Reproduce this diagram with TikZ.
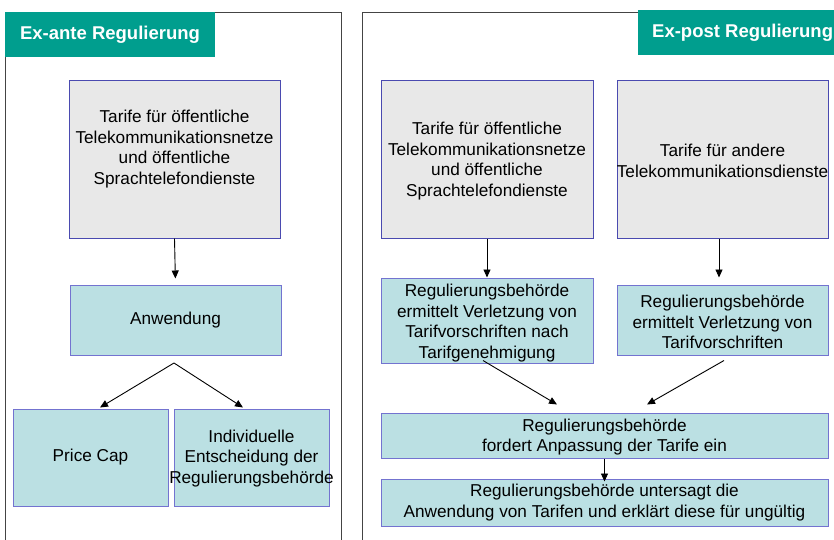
\documentclass[tikz,border=0pt]{standalone}
\usepackage{fontspec}
\setmainfont{Liberation Sans}
\usetikzlibrary{arrows.meta}
\definecolor{teal1}{HTML}{009E8E}
\definecolor{greyfill}{HTML}{E8E8E8}
\definecolor{greyline}{HTML}{4A4AB0}
\definecolor{lightteal}{HTML}{BBE0E3}
\definecolor{tealline}{HTML}{7373D0}
\definecolor{frameline}{HTML}{444444}
\tikzset{
  greybox/.style={draw=greyline, fill=greyfill, line width=1pt, inner sep=0pt},
  tealbox/.style={draw=tealline, fill=lightteal, line width=1pt, inner sep=0pt},
  txt/.style={align=center, inner sep=0pt, font=\fontsize{17.2}{20.5}\selectfont},
  titlebox/.style={fill=teal1, inner sep=0pt},
  titletxt/.style={text=white, inner sep=0pt, font=\fontsize{18.5}{22}\selectfont\bfseries},
  frame/.style={draw=frameline, line width=1pt},
  arr/.style={draw=black, line width=0.9pt, -{Triangle[length=8pt,width=7pt]}},
  conn/.style={draw=black, line width=0.9pt}
}
\begin{document}
\begin{tikzpicture}[x=1pt,y=-1pt]
\clip (0,0) rectangle (834,539);
\fill[white] (0,0) rectangle (834,539);
% panels
\draw[frame] (5,12) rectangle (341,580);
\draw[frame] (362,12) rectangle (900,580);
% titles
\node[titlebox, minimum width=210pt, minimum height=45pt] (t1) at (110,34.5) {};
\node[titletxt] (t1txt) at (t1) {Ex-ante Regulierung};
\node[titlebox, minimum width=230pt, minimum height=45pt, anchor=north west] (t2) at (638,10) {};
\node[titletxt, anchor=west] (t2txt) at (652,32.5) {Ex-post Regulierung};
% left column
\node[greybox, minimum width=211pt, minimum height=158pt] (lg) at (174.5,159) {};
\node[txt] (lgt) at (174.5,149) {Tarife für öffentliche\\Telekommunikationsnetze\\und öffentliche\\Sprachtelefondienste};
\node[tealbox, minimum width=211pt, minimum height=70pt] (aw) at (175.5,320) {};
\node[txt] (awt) at (aw) {Anwendung};
\node[tealbox, minimum width=155pt, minimum height=97pt] (pc) at (90.5,457.5) {};
\node[txt] (pct) at (pc) {Price Cap};
\node[tealbox, minimum width=155pt, minimum height=97pt] (ie) at (251.5,457.5) {};
\node[txt] (iet) at (251.5,458.5) {Individuelle\\Entscheidung der\\Regulierungsbehörde};
\coordinate (apex) at (174,363);
\draw[arr, shorten >=6pt] (lg.south) -- (aw.north);
\draw[arr] (apex) -- ([xshift=9.5pt,yshift=1pt]pc.north);
\draw[arr] (apex) -- ([xshift=-8.5pt,yshift=1pt]ie.north);
% right column
\node[greybox, minimum width=212pt, minimum height=158pt] (rg1) at (487,159) {};
\node[txt] (rg1t) at (487,161) {Tarife für öffentliche\\Telekommunikationsnetze\\und öffentliche\\Sprachtelefondienste};
\node[greybox, minimum width=211pt, minimum height=158pt] (rg2) at (722.5,159) {};
\node[txt] (rg2t) at (722.5,161) {Tarife für andere\\Telekommunikationsdienste};
\node[tealbox, minimum width=212pt, minimum height=85pt] (r1) at (487,320.5) {};
\node[txt] (r1t) at (487,323) {Regulierungsbehörde\\ermittelt Verletzung von\\Tarifvorschriften nach\\Tarifgenehmigung};
\node[tealbox, minimum width=211pt, minimum height=70pt] (r2) at (722.5,320) {};
\node[txt] (r2t) at (722.5,322) {Regulierungsbehörde\\ermittelt Verletzung von\\Tarifvorschriften};
\node[tealbox, minimum width=447pt, minimum height=45pt] (r3) at (604.5,435.5) {};
\node[txt] (r3t) at (604.5,437) {Regulierungsbehörde\\fordert Anpassung der Tarife ein};
\node[tealbox, minimum width=447pt, minimum height=47pt] (r4) at (604.5,502.5) {};
\node[txt] (r4t) at (r4) {Regulierungsbehörde untersagt die\\Anwendung von Tarifen und erklärt diese für ungültig};
\draw[arr] (rg1.south) -- (r1.north);
\draw[arr, shorten >=7pt] ([xshift=-3.5pt]rg2.south) -- ([xshift=-3.5pt]r2.north);
\draw[arr] ([xshift=-4pt,yshift=3pt]r1.south) -- ([xshift=-47.5pt,yshift=8pt]r3.north);
\draw[arr] ([xshift=1.5pt,yshift=-5pt]r2.south) -- ([xshift=42.5pt,yshift=8pt]r3.north);
\draw[arr, shorten >=-3pt] (r3.south) -- (r4.north);
\end{tikzpicture}
\end{document}
